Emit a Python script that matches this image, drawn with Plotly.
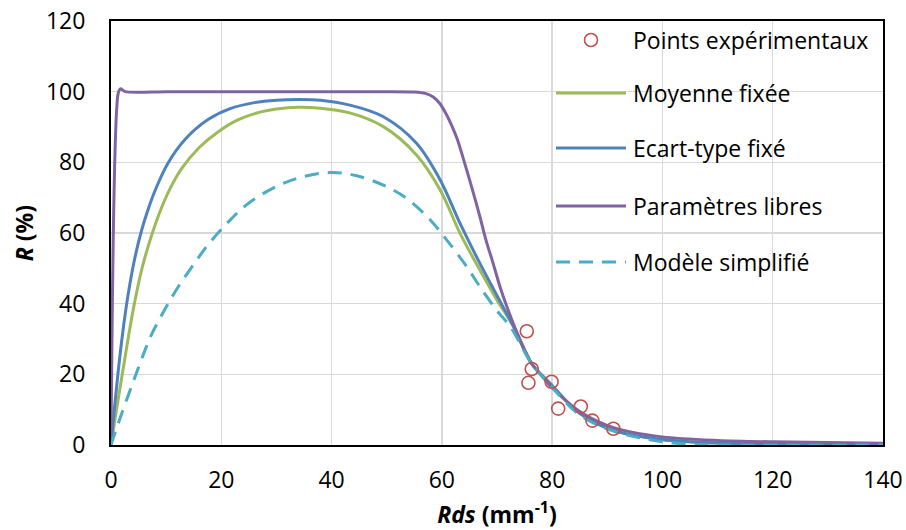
import plotly.graph_objects as go

# ---------------- data ----------------
exp_x = [75.4, 76.3, 75.7, 79.9, 81.1, 85.2, 87.3, 91.1]
exp_y = [32.2, 21.5, 17.6, 17.9, 10.3, 10.9, 6.9, 4.6]

moy_x = [0, 1.0, 2.2, 3.2, 4.3, 5.7, 7.3, 9.0, 10.6, 12.7, 16, 19.4, 23, 27, 30, 34, 38, 43.3, 49.4,
         55.4, 59.7, 63.3, 66.9, 70, 73, 76.3, 79.6, 85, 91, 97.7, 105, 120, 140]
moy_y = [0, 10, 21.5, 31, 40.5, 50.5, 59, 66.5, 72.2, 78, 84.2, 88.6, 92.0, 94.2, 95.1, 95.6, 95.3, 94.0, 90.1,
         82.1, 72.2, 59.9, 49.5, 41, 33.5, 23, 17.5, 9, 4.2, 2, 0.9, 0.2, 0]

ect_x = [0, 0.6, 1.27, 2.1, 3.1, 4.2, 5.5, 6.8, 8.2, 10.3, 13.5, 17.6, 21.6, 26, 30, 34, 38, 43.3, 49.4,
         55.4, 59.7, 63.3, 66.9, 71.1, 73, 76.3, 79.6, 85, 91, 97.7, 105, 120, 140]
ect_y = [0, 10, 20.3, 31.5, 42.5, 52, 60.5, 67, 72.8, 79.7, 86.6, 92.1, 95.2, 96.9, 97.6, 97.8, 97.6, 96.2, 92.9,
         85.4, 75, 62.7, 51.4, 39.1, 33.5, 23, 17.5, 9, 4.2, 2, 0.9, 0.2, 0]

par_x = [0, 1.3, 1.7, 2.6, 10, 20, 30, 40, 50, 55, 57, 58.5, 59.7, 60.8, 61.8, 62.8, 64, 65.5,
         66.9, 68, 69.3, 70.5, 71.8, 73.3, 75, 76.3, 78, 80, 85, 91, 100, 110, 120, 140]
par_y = [0, 99.5, 100.8, 100, 100, 100, 100, 100, 100, 99.9, 99.5, 98.4, 96.5, 93.6, 90.4, 86.5, 80.5, 72.5,
         64.6, 58, 51.4, 45, 39.1, 33, 27, 23, 19.8, 16.2, 9.5, 5, 2.3, 1.3, 0.9, 0.5]

sim_x = [0, 0.7, 1.9, 3.7, 5.5, 7.3, 9.7, 12.2, 14.9, 17.6, 21.2, 24.5, 29.4, 34.3, 39.7, 44.6,
         50, 53.6, 57.9, 60.9, 64.5, 66.9, 69.9, 72.4, 76.3, 79.6, 85, 91, 97.7, 104, 110, 140]
sim_y = [0, 3.3, 8.7, 16.5, 24.1, 31.1, 38.2, 44.8, 50.9, 56.7, 63.0, 67.9, 72.7, 75.7, 77.1, 76.2,
         73.1, 69.8, 63.7, 58, 50.5, 44.8, 38.2, 33.5, 23, 17, 8.5, 4, 1.5, 0.3, 0, 0]

x_ticks = [0, 20, 40, 60, 80, 100, 120, 140]
y_ticks = [0, 20, 40, 60, 80, 100, 120]

names = ["Points expérimentaux", "Moyenne fixée", "Ecart-type fixé",
         "Paramètres libres", "Modèle simplifié"]

# ---------------- styles ----------------
C_RED = "#C0504D"
C_GREEN = "#9BBB59"
C_BLUE = "#4F81BD"
C_PURPLE = "#8064A2"
C_CYAN = "#4BACC6"
FONT = "Open Sans"
FS = 23
LW = 3
DASH = "14px,9px"

fig = go.Figure()
fig.add_trace(go.Scatter(x=moy_x, y=moy_y, mode="lines", name=names[1],
                         line=dict(color=C_GREEN, width=LW, shape="spline", smoothing=1.0)))
fig.add_trace(go.Scatter(x=ect_x, y=ect_y, mode="lines", name=names[2],
                         line=dict(color=C_BLUE, width=LW, shape="spline", smoothing=1.0)))
fig.add_trace(go.Scatter(x=par_x, y=par_y, mode="lines", name=names[3],
                         line=dict(color=C_PURPLE, width=LW, shape="spline", smoothing=0.8)))
fig.add_trace(go.Scatter(x=sim_x, y=sim_y, mode="lines", name=names[4],
                         line=dict(color=C_CYAN, width=LW, dash=DASH,
                                   shape="spline", smoothing=1.0)))
fig.add_trace(go.Scatter(x=exp_x, y=exp_y, mode="markers", name=names[0],
                         marker=dict(symbol="circle-open", size=13, color=C_RED,
                                     line=dict(width=1.6, color=C_RED))))

# ---------------- manual legend (paper coordinates) ----------------
L, R, T, B = 111, 23, 21, 85
W, H = 906, 530
pw, ph = W - L - R, H - T - B

def px_x(p):
    return (p - L) / pw

def px_y(p):
    return (H - B - p) / ph

rows = [40, 93, 148, 206, 262]
styles = [None, (C_GREEN, "solid"), (C_BLUE, "solid"), (C_PURPLE, "solid"), (C_CYAN, "dash")]
for i, (name, st) in enumerate(zip(names, styles)):
    yy = px_y(rows[i])
    if st is None:
        fig.add_shape(type="circle", xref="paper", yref="paper",
                      xsizemode="pixel", ysizemode="pixel",
                      xanchor=px_x(591), yanchor=yy,
                      x0=-6.5, x1=6.5, y0=-6.5, y1=6.5,
                      line=dict(color=C_RED, width=1.6), fillcolor="rgba(0,0,0,0)")
    else:
        fig.add_shape(type="line", xref="paper", yref="paper",
                      x0=px_x(556), x1=px_x(626), y0=yy, y1=yy,
                      line=dict(color=st[0], width=LW,
                                dash=DASH if st[1] == "dash" else "solid"))
    fig.add_annotation(xref="paper", yref="paper", x=px_x(631), y=yy,
                       xanchor="left", yanchor="middle", showarrow=False,
                       text=name, font=dict(family=FONT, size=FS, color="#000000"))

axis_common = dict(showline=True, linecolor="#000000", linewidth=2, mirror=True,
                   showgrid=True, gridcolor="#D9D9D9", gridwidth=1.3,
                   zeroline=False, ticks="",
                   tickfont=dict(family=FONT, size=FS, color="#000000"))

fig.update_xaxes(range=[0, 140], tickvals=x_ticks, ticktext=[str(v) for v in x_ticks],
                 ticklabelstandoff=13,
                 title=dict(text="<b><i>Rds</i> (mm<sup>-1</sup>)</b>", standoff=14,
                            font=dict(family=FONT, size=FS, color="#000000")),
                 **axis_common)
fig.update_yaxes(range=[0, 120], tickvals=y_ticks, ticktext=[str(v) for v in y_ticks],
                 ticklabelstandoff=19,
                 title=dict(text="<b><i>R</i> (%)</b>", standoff=6,
                            font=dict(family=FONT, size=FS, color="#000000")),
                 **axis_common)

fig.update_layout(width=W, height=H, margin=dict(l=L, r=R, t=T, b=B, autoexpand=False),
                  paper_bgcolor="#FFFFFF", plot_bgcolor="#FFFFFF", showlegend=False,
                  hovermode=False,
                  font=dict(family=FONT, color="#000000"))

fig.write_html("out.html", config={"displayModeBar": False, "staticPlot": True})

# remove the browser's default page margin so the figure sits at (0, 0)
with open("out.html", "r", encoding="utf-8") as f:
    html = f.read()
html = html.replace("<body>", '<body style="margin:0;padding:0;overflow:hidden">', 1)
with open("out.html", "w", encoding="utf-8") as f:
    f.write(html)
